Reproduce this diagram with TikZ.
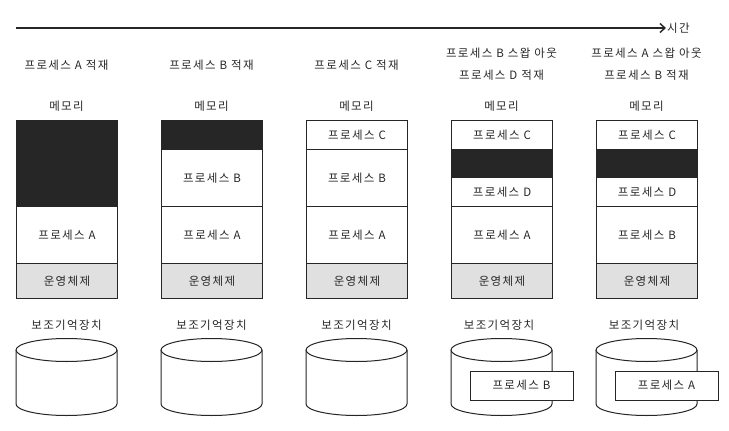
\documentclass[tikz,border=0pt]{standalone}
\usepackage{fontspec}
\newfontfamily\krfont[LetterSpace=12]{Noto Sans CJK KR}
\usetikzlibrary{arrows.meta}

\definecolor{ink}{HTML}{262626}
\definecolor{osgray}{HTML}{E0E0E0}

\tikzset{
  cell/.style={draw=ink, line width=1pt, minimum width=101pt, inner sep=0pt, anchor=north west,
    font=\krfont\fontsize{11.5}{13}\selectfont, text=ink},
  freecell/.style={cell, fill=ink},
  oscell/.style={cell, fill=osgray},
  swapcell/.style={draw=ink, line width=1pt, fill=white, minimum width=103pt, minimum height=29pt,
    inner sep=0pt, font=\krfont\fontsize{11.5}{13}\selectfont, text=ink},
  caption/.style={font=\krfont\fontsize{11.5}{22}\selectfont, text=ink, align=center},
  disk/.style={draw=ink, line width=1pt, fill=white},
}

\begin{document}
\begin{tikzpicture}[x=1pt,y=-1pt]
\useasboundingbox (0,0) rectangle (729,431);

% time axis
\coordinate (t0) at (16,28);
\coordinate (t1) at (666,28);
\draw[ink, line width=1.4pt, -{Straight Barb[length=5pt,width=9pt]}] (t0) -- (t1);
\node[caption, anchor=west, inner sep=1pt] (time) at (t1) {시간};

% captions
\node[caption] (cap1) at (66.5,65) {프로세스 A 적재};
\node[caption] (cap2) at (211.5,65) {프로세스 B 적재};
\node[caption] (cap3) at (356.5,65) {프로세스 C 적재};
\node[caption] (cap4) at (501.5,64) {프로세스 B 스왑 아웃\\프로세스 D 적재};
\node[caption] (cap5) at (646.5,64) {프로세스 A 스왑 아웃\\프로세스 B 적재};

\node[caption] (mem1) at (66.5,106) {메모리};
\node[caption] (mem2) at (211.5,106) {메모리};
\node[caption] (mem3) at (356.5,106) {메모리};
\node[caption] (mem4) at (501.5,106) {메모리};
\node[caption] (mem5) at (646.5,106) {메모리};

% memory 1
\node[freecell, minimum height=86pt] (free1) at (16,120) {};
\node[cell, minimum height=57pt] (a1) at (16,206) {프로세스 A};
\node[oscell, minimum height=35pt] (os1) at (16,263) {운영체제};

% memory 2
\node[freecell, minimum height=29pt] (free2) at (161,120) {};
\node[cell, minimum height=57pt] (b2) at (161,149) {프로세스 B};
\node[cell, minimum height=57pt] (a2) at (161,206) {프로세스 A};
\node[oscell, minimum height=35pt] (os2) at (161,263) {운영체제};

% memory 3
\node[cell, minimum height=29pt] (c3) at (306,120) {프로세스 C};
\node[cell, minimum height=57pt] (b3) at (306,149) {프로세스 B};
\node[cell, minimum height=57pt] (a3) at (306,206) {프로세스 A};
\node[oscell, minimum height=35pt] (os3) at (306,263) {운영체제};

% memory 4
\node[cell, minimum height=29pt] (c4) at (451,120) {프로세스 C};
\node[freecell, minimum height=28pt] (free4) at (451,149) {};
\node[cell, minimum height=29pt] (d4) at (451,177) {프로세스 D};
\node[cell, minimum height=57pt] (a4) at (451,206) {프로세스 A};
\node[oscell, minimum height=35pt] (os4) at (451,263) {운영체제};

% memory 5
\node[cell, minimum height=29pt] (c5) at (596,120) {프로세스 C};
\node[freecell, minimum height=28pt] (free5) at (596,149) {};
\node[cell, minimum height=29pt] (d5) at (596,177) {프로세스 D};
\node[cell, minimum height=57pt] (b5) at (596,206) {프로세스 B};
\node[oscell, minimum height=35pt] (os5) at (596,263) {운영체제};

% secondary storage
\node[caption] (disk1) at (66.5,325) {보조기억장치};
\node[caption] (disk2) at (211.5,325) {보조기억장치};
\node[caption] (disk3) at (356.5,325) {보조기억장치};
\node[caption] (disk4) at (499,325) {보조기억장치};
\node[caption] (disk5) at (644,325) {보조기억장치};

\draw[disk] (16,350) -- (16,404) arc[start angle=180,end angle=0,x radius=50.5,y radius=11.5] -- (117,350); %disk 1
\draw[disk] (66.5,350) ellipse[x radius=50.5,y radius=11.5];
\draw[disk] (161,350) -- (161,404) arc[start angle=180,end angle=0,x radius=50.5,y radius=11.5] -- (262,350); %disk 2
\draw[disk] (211.5,350) ellipse[x radius=50.5,y radius=11.5];
\draw[disk] (306,350) -- (306,404) arc[start angle=180,end angle=0,x radius=50.5,y radius=11.5] -- (407,350); %disk 3
\draw[disk] (356.5,350) ellipse[x radius=50.5,y radius=11.5];
\draw[disk] (451,350) -- (451,404) arc[start angle=180,end angle=0,x radius=50.5,y radius=11.5] -- (552,350); %disk 4
\draw[disk] (501.5,350) ellipse[x radius=50.5,y radius=11.5];
\draw[disk] (596,350) -- (596,404) arc[start angle=180,end angle=0,x radius=50.5,y radius=11.5] -- (697,350); %disk 5
\draw[disk] (646.5,350) ellipse[x radius=50.5,y radius=11.5];

\node[swapcell] (outB) at (521.5,385.5) {프로세스 B};
\node[swapcell] (outA) at (666.5,385.5) {프로세스 A};

\end{tikzpicture}
\end{document}
